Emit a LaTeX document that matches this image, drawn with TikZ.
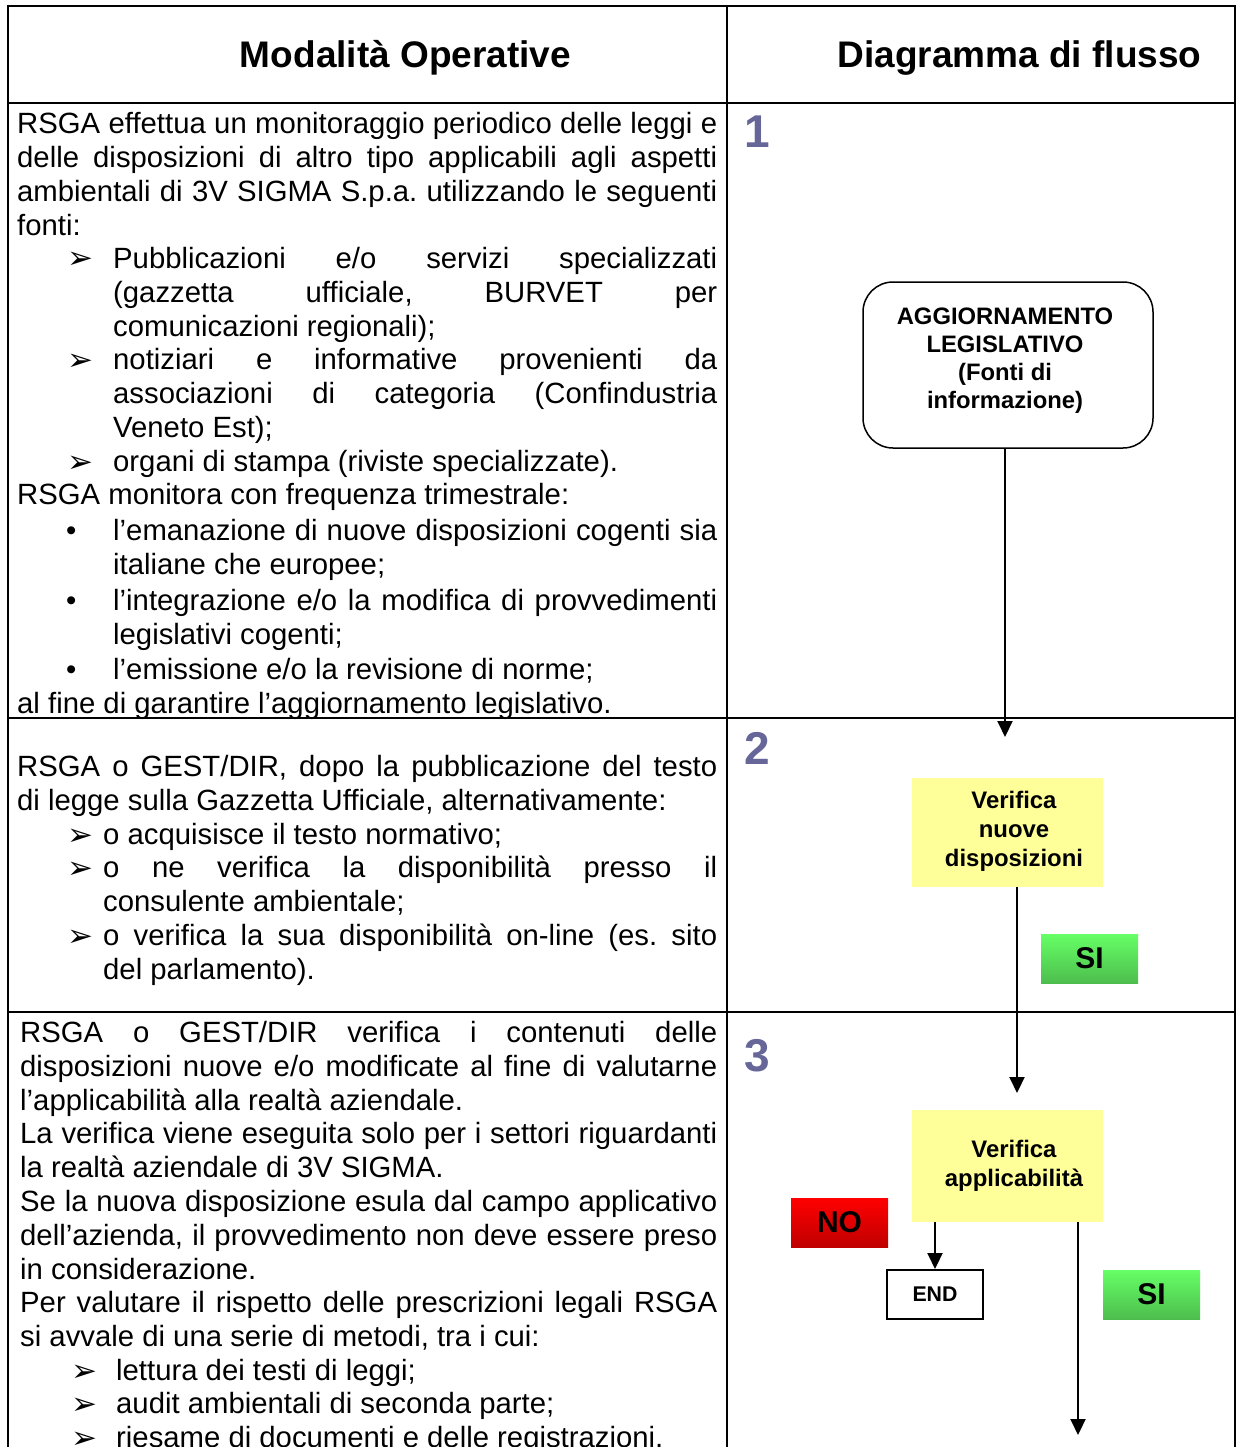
\documentclass[tikz,border=0pt]{standalone}
\usepackage{fontspec}
\setmainfont{Liberation Sans}
\newfontfamily\dejavu{DejaVu Sans}
\usetikzlibrary{arrows.meta,shadings}
\definecolor{numcol}{RGB}{102,102,153}
\definecolor{boxyellow}{RGB}{255,255,153}
\definecolor{gtop}{RGB}{102,255,102}
\definecolor{gbot}{RGB}{77,190,77}
\definecolor{rtop}{RGB}{255,0,0}
\definecolor{rbot}{RGB}{192,0,0}
\newcommand\bodyfont{\fontsize{29.3}{34}\selectfont\frenchspacing\hyphenpenalty=10000\exhyphenpenalty=10000\hbadness=10000}
\tikzset{
  tbl/.style={line width=2pt},
  txt/.style={anchor=north west, inner sep=0pt, text width=#1, align=justify, font=\bodyfont, execute at begin node=\strut},
  arrowbul/.style={anchor=base west, inner sep=0pt, font=\dejavu\fontsize{31}{31}\selectfont},
  dotbul/.style={anchor=base west, inner sep=0pt, font=\bodyfont},
  hdr/.style={anchor=base, inner sep=0pt, font=\bfseries\fontsize{37}{40}\selectfont},
  stepnum/.style={anchor=base west, inner sep=0pt, text=numcol, font=\bfseries\fontsize{46}{46}\selectfont},
  flowtxt/.style={font=\bfseries\fontsize{23.8}{28}\selectfont, align=center, inner sep=0pt},
  ybox/.style={fill=boxyellow, minimum width=191pt, inner sep=0pt},
  ytxt/.style={align=center, inner sep=0pt, font=\bfseries\fontsize{23.9}{29}\selectfont},
  lbl/.style={inner sep=0pt, minimum width=97pt, minimum height=49pt, font=\bfseries\fontsize{30}{30}\selectfont},
  silbl/.style={lbl, top color=gtop, bottom color=gbot},
  nolbl/.style={lbl, top color=rtop, bottom color=rbot},
  arr/.style={line width=2pt, -{Triangle[length=16pt,width=15pt]}},
}
\begin{document}
\begin{tikzpicture}[x=1pt,y=-1pt]
\useasboundingbox (0,0) rectangle (1236,1447);
% table
\draw[tbl] (8,1450) -- (8,6) -- (1235,6) -- (1235,1450);
\draw[tbl] (727,6) -- (727,1450);
\draw[tbl] (8,103) -- (1235,103);
\draw[tbl] (8,718) -- (1235,718);
\draw[tbl] (8,1012) -- (1235,1012);
% headers
\node[hdr] (h1) at (405.5,68) {Modalità Operative};
\node[hdr] (h2) at (1019.5,68) {Diagramma di flusso};
% step numbers
\node[stepnum] (n1) at (744,148) {1};
\node[stepnum] (n2) at (744,764) {2};
\node[stepnum] (n3) at (744,1071) {3};
% ---- cell 1 text
\node[txt=700pt] (c1p1) at (17,109.2) {RSGA effettua un monitoraggio periodico delle leggi e\linebreak delle disposizioni di altro tipo applicabili agli aspetti\linebreak ambientali di 3V SIGMA S.p.a. utilizzando le seguenti\linebreak fonti:};
\node[arrowbul] (c1b1) at (67,269) {➢};
\node[txt=604pt] (c1i1) at (113,244.2) {Pubblicazioni e/o servizi specializzati\linebreak (gazzetta ufficiale, BURVET per\linebreak comunicazioni regionali);};
\node[arrowbul] (c1b2) at (67,370) {➢};
\node[txt=604pt] (c1i2) at (113,345.2) {notiziari e informative provenienti da\linebreak associazioni di categoria (Confindustria\linebreak Veneto Est);};
\node[arrowbul] (c1b3) at (67,472) {➢};
\node[txt=604pt] (c1i3) at (113,447.2) {organi di stampa (riviste specializzate).};
\node[txt=700pt] (c1p2) at (17,480.2) {RSGA monitora con frequenza trimestrale:};
\node[dotbul] (c1d1) at (66,540) {•};
\node[txt=604pt] (c1r1) at (113,516.2) {l’emanazione di nuove disposizioni cogenti sia\linebreak italiane che europee;};
\node[dotbul] (c1d2) at (66,610) {•};
\node[txt=604pt] (c1r2) at (113,586.2) {l’integrazione e/o la modifica di provvedimenti\linebreak legislativi cogenti;};
\node[dotbul] (c1d3) at (66,679) {•};
\node[txt=604pt] (c1r3) at (113,655.2) {l’emissione e/o la revisione di norme;};
\node[txt=700pt] (c1p3) at (17,689.2) {al fine di garantire l’aggiornamento legislativo.};
% ---- cell 2 text
\node[txt=700pt] (c2p1) at (17,752.2) {RSGA o GEST/DIR, dopo la pubblicazione del testo\linebreak di legge sulla Gazzetta Ufficiale, alternativamente:};
\node[arrowbul] (c2b1) at (67,845) {➢};
\node[txt=614pt] (c2i1) at (103,820.2) {o acquisisce il testo normativo;};
\node[arrowbul] (c2b2) at (67,878) {➢};
\node[txt=614pt] (c2i2) at (103,853.2) {o ne verifica la disponibilità presso il\linebreak consulente ambientale;};
\node[arrowbul] (c2b3) at (67,946) {➢};
\node[txt=614pt] (c2i3) at (103,921.2) {o verifica la sua disponibilità on-line (es. sito\linebreak del parlamento).};
% ---- cell 3 text
\node[txt=697pt] (c3p1) at (20,1018.2) {RSGA o GEST/DIR verifica i contenuti delle\linebreak disposizioni nuove e/o modificate al fine di valutarne\linebreak l’applicabilità alla realtà aziendale.};
\node[txt=697pt] (c3p2) at (20,1119.2) {La verifica viene eseguita solo per i settori riguardanti\linebreak la realtà aziendale di 3V SIGMA.};
\node[txt=697pt] (c3p3) at (20,1187.2) {Se la nuova disposizione esula dal campo applicativo\linebreak dell’azienda, il provvedimento non deve essere preso\linebreak in considerazione.};
\node[txt=697pt] (c3p4) at (20,1288.2) {Per valutare il rispetto delle prescrizioni legali RSGA\linebreak si avvale di una serie di metodi, tra i cui:};
\node[arrowbul] (c3b1) at (71,1381) {➢};
\node[txt=601pt] (c3i1) at (116,1356.2) {lettura dei testi di leggi;};
\node[arrowbul] (c3b2) at (71,1414) {➢};
\node[txt=601pt] (c3i2) at (116,1389.2) {audit ambientali di seconda parte;};
\node[arrowbul] (c3b3) at (71,1448) {➢};
\node[txt=601pt] (c3i3) at (116,1423.2) {riesame di documenti e delle registrazioni.};
% ---- flow diagram
\node[draw, line width=1.5pt, rounded corners=30pt, minimum width=290pt, minimum height=166pt, inner sep=0pt] (box1) at (1008,365) {};
\node[flowtxt] (box1t) at (1005,361) {AGGIORNAMENTO\\LEGISLATIVO\\(Fonti di\\informazione)};
\node[ybox, minimum height=109pt] (box2) at (1007.5,832.5) {};
\node[ytxt] (box2t) at (1014,831) {Verifica\\nuove\\disposizioni};
\node[ybox, minimum height=112pt] (box3) at (1007.5,1166) {};
\node[ytxt] (box3t) at (1014,1166) {Verifica\\applicabilità};
\node[silbl] (si1) at (1089.5,958.5) {SI};
\node[nolbl] (no1) at (839.5,1222.5) {NO};
\node[lbl, draw, line width=2pt, fill=white, font=\bfseries\fontsize{21.3}{22}\selectfont, minimum width=96pt] (endn) at (935,1294.5) {END};
\node[silbl] (si2) at (1151.5,1294.5) {SI};
\coordinate (t1) at (1005,737);
\coordinate (t2) at (1017,1093);
\coordinate (t3) at (1078,1435);
\draw[arr] (box1.south -| t1) -- (t1);
\draw[arr] (box2.south -| t2) -- (t2);
\draw[arr] (box3.south -| endn.north) -- (endn.north);
\draw[arr] (box3.south -| t3) -- (t3);
\end{tikzpicture}
\end{document}
